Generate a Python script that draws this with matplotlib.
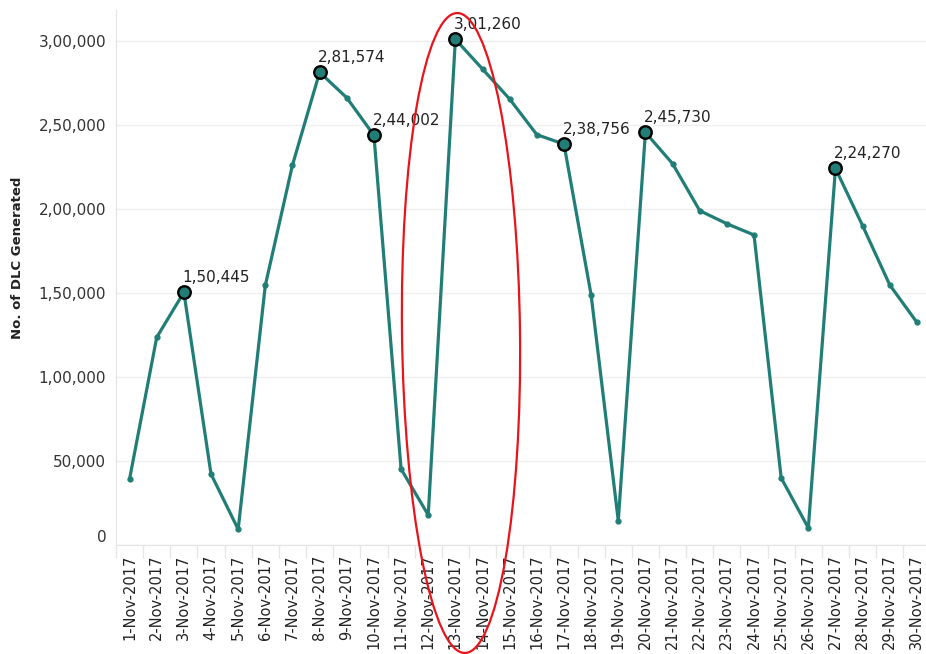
import matplotlib.pyplot as plt
import matplotlib.transforms as mtransforms
from matplotlib.patches import Ellipse
from matplotlib.ticker import FuncFormatter, FixedLocator

days = list(range(1, 31))
dates = [f"{d}-Nov-2017" for d in days]
dlc = [39200, 123600, 150445, 42100, 9200, 154600, 226300, 281574, 266400, 244002,
       45100, 17700, 301260, 283500, 265600, 244400, 238756, 148800, 14300, 245730,
       227100, 199100, 191300, 184600, 39800, 10000, 224270, 190100, 154800, 132500]
labelled = [3, 8, 10, 13, 17, 20, 27]


def indian(v):
    s = str(int(round(v)))
    if len(s) <= 3:
        return s
    head, tail = s[:-3], s[-3:]
    parts = []
    while len(head) > 2:
        parts.insert(0, head[-2:])
        head = head[:-2]
    if head:
        parts.insert(0, head)
    return ",".join(parts) + "," + tail


teal = "#217e76"
fig = plt.figure(figsize=(9.26, 6.54), dpi=100)
ax = fig.add_axes([116 / 926, 1 - 544.7 / 654, 814.5 / 926, 534.7 / 654])

ax.plot(days, dlc, color=teal, lw=2.3, marker="o", ms=3.5, zorder=3)
ax.plot(labelled, [dlc[d - 1] for d in labelled], ls="none", marker="o", ms=9,
        mfc=teal, mec="black", mew=1.7, zorder=4)
for d in labelled:
    ax.annotate(indian(dlc[d - 1]), (d, dlc[d - 1]), xytext=(-1, 5), textcoords="offset points",
                ha="left", va="bottom", fontsize=11, color="#222222", zorder=5)

ax.set_xlim(0.5, 30.5)
ax.set_ylim(0, 318700)
ax.set_yticks(range(0, 300001, 50000))
ax.yaxis.set_major_formatter(FuncFormatter(lambda v, p: indian(v)))
ax.grid(axis="y", color="#efefef", lw=1)
ax.set_axisbelow(True)

ax.set_xticks(days)
ax.set_xticklabels(dates, rotation=90, ha="center", va="top", fontsize=10.5, color="#222222")
ax.xaxis.set_minor_locator(FixedLocator([d + 0.5 for d in range(0, 31)]))
ax.tick_params(axis="x", which="major", length=0, pad=7)
ax.tick_params(axis="x", which="minor", length=9, color="#e6e6e6", width=1)
ax.tick_params(axis="y", length=0, pad=7, labelsize=11, labelcolor="#333333")
ax.get_yticklabels()[0].set_va("bottom")

for s in ["top", "right"]:
    ax.spines[s].set_visible(False)
for s in ["left", "bottom"]:
    ax.spines[s].set_color("#e3e3e3")

fig.text(18 / 926, 1 - 258 / 654, "No. of DLC Generated", rotation=90, ha="center", va="center",
         fontsize=9.5, fontweight="bold", color="#222222")

# red highlight ring drawn on top of the chart in pixel space
ring = Ellipse((461, 654 - 333), 118, 640, angle=0.7, fill=False, ec="#e8141c", lw=1.6,
               transform=mtransforms.IdentityTransform(), zorder=10)
fig.add_artist(ring)

fig.savefig("out.png", dpi=100)
